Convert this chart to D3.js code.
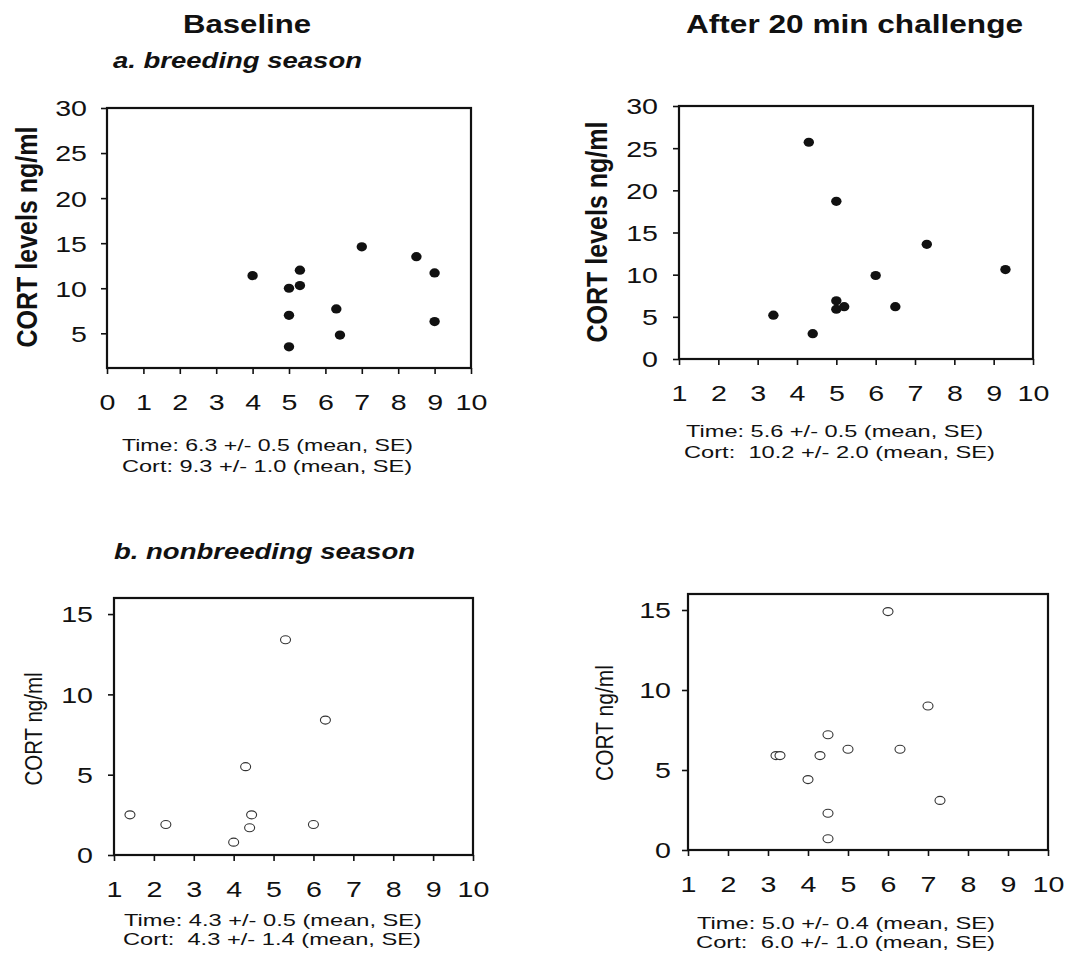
<!DOCTYPE html>
<html>
<head>
<meta charset="utf-8">
<script src="https://cdn.jsdelivr.net/npm/d3@7"></script>
<style>
  html, body { margin: 0; padding: 0; background: #fff; }
  svg { display: block; }
  text { font-family: "Liberation Sans", Arial, Helvetica, sans-serif; fill: #111; white-space: pre; }
</style>
</head>
<body>
<svg id="chart" width="1068" height="960"></svg>
<script>
// Breeding season, baseline samples (time in min, CORT ng/ml)
const breedBaseTime = [4.0, 5.0, 5.3, 5.3, 5.0, 5.0, 7.0, 6.3, 6.4, 8.5, 9.0, 9.0];
const breedBaseCort = [11.4, 10.0, 12.0, 10.3, 7.0, 3.5, 14.6, 7.7, 4.8, 13.5, 11.7, 6.3];

// Breeding season, after 20 min challenge
const breedChalTime = [4.3, 5.0, 7.3, 9.3, 6.0, 5.0, 5.0, 5.2, 6.5, 3.4, 4.4];
const breedChalCort = [25.7, 18.7, 13.6, 10.6, 9.9, 6.9, 5.9, 6.2, 6.2, 5.2, 3.0];

// Nonbreeding season, baseline samples
const nonBaseTime = [5.3, 6.3, 4.3, 1.4, 2.3, 4.45, 4.4, 4.0, 6.0];
const nonBaseCort = [13.4, 8.4, 5.5, 2.5, 1.9, 2.5, 1.7, 0.8, 1.9];

// Nonbreeding season, after 20 min challenge
const nonChalTime = [6.0, 7.0, 4.5, 5.0, 6.3, 3.2, 3.3, 4.3, 4.0, 7.3, 4.5, 4.5];
const nonChalCort = [14.9, 9.0, 7.2, 6.3, 6.3, 5.9, 5.9, 5.9, 4.4, 3.1, 2.3, 0.7];

// Tick labels
const xTicksFrom0 = [0, 1, 2, 3, 4, 5, 6, 7, 8, 9, 10];
const xTicksFrom1 = [1, 2, 3, 4, 5, 6, 7, 8, 9, 10];
const yTicksBreedBase = [5, 10, 15, 20, 25, 30];
const yTicksBreedChal = [0, 5, 10, 15, 20, 25, 30];
const yTicksNon = [0, 5, 10, 15];

// Column and section headings, axis titles, summary lines
const columnTitles = ["Baseline", "After 20 min challenge"];
const sectionTitles = ["a. breeding season", "b. nonbreeding season"];
const yTitleBreed = "CORT levels ng/ml";
const yTitleNon = "CORT ng/ml";
const summaries = [
  ["Time: 6.3 +/- 0.5 (mean, SE)", "Cort: 9.3 +/- 1.0 (mean, SE)"],
  ["Time: 5.6 +/- 0.5 (mean, SE)", "Cort:  10.2 +/- 2.0 (mean, SE)"],
  ["Time: 4.3 +/- 0.5 (mean, SE)", "Cort:  4.3 +/- 1.4 (mean, SE)"],
  ["Time: 5.0 +/- 0.4 (mean, SE)", "Cort:  6.0 +/- 1.0 (mean, SE)"]
];

const SX = 1.15;       // horizontal stretch of rotated titles
const TICK_SX = 1.3;   // horizontal stretch of tick numerals
const TICK_FONT = 22;
const svg = d3.select("#chart");

function hText(str, x, y, opts) {
  const t = svg.append("text")
    .attr("x", x).attr("y", y)
    .attr("font-size", opts.size)
    .attr("font-weight", opts.bold ? "bold" : "normal")
    .attr("font-style", opts.italic ? "italic" : "normal")
    .text(str);
  if (opts.width) t.attr("textLength", opts.width).attr("lengthAdjust", "spacingAndGlyphs");
  return t;
}

function vText(str, x, y, size, bold) {
  svg.append("text")
    .attr("transform", `translate(${x},${y}) scale(${SX},1) rotate(-90)`)
    .attr("text-anchor", "middle")
    .attr("font-size", size)
    .attr("font-weight", bold ? "bold" : "normal")
    .text(str);
}

const panels = [
  { time: breedBaseTime, cort: breedBaseCort, filled: true,
    box: [107, 108, 471, 368], xDom: [0, 10], yDom: [1.15, 30],
    xTicks: xTicksFrom0, yTicks: yTicksBreedBase, yLabOff: 20,
    yTitle: yTitleBreed, yTitleX: 37, yTitleY: 237, yTitleSize: 25, yTitleBold: true,
    sum: summaries[0], sumPos: [[122, 451, 291], [122, 472, 290]] },
  { time: breedChalTime, cort: breedChalCort, filled: true,
    box: [679, 106, 1033, 359], xDom: [1, 10], yDom: [0, 30],
    xTicks: xTicksFrom1, yTicks: yTicksBreedChal, yLabOff: 21,
    yTitle: yTitleBreed, yTitleX: 607, yTitleY: 232, yTitleSize: 25, yTitleBold: true,
    sum: summaries[1], sumPos: [[686, 437, 297], [684, 458, 311]] },
  { time: nonBaseTime, cort: nonBaseCort, filled: false,
    box: [114, 598, 473, 855], xDom: [1, 10], yDom: [0, 16],
    xTicks: xTicksFrom1, yTicks: yTicksNon, yLabOff: 21,
    yTitle: yTitleNon, yTitleX: 42, yTitleY: 729, yTitleSize: 20.5, yTitleBold: false,
    sum: summaries[2], sumPos: [[124, 926, 298], [123, 945, 298]] },
  { time: nonChalTime, cort: nonChalCort, filled: false,
    box: [688, 594, 1048, 850], xDom: [1, 10], yDom: [0, 16],
    xTicks: xTicksFrom1, yTicks: yTicksNon, yLabOff: 17,
    yTitle: yTitleNon, yTitleX: 613, yTitleY: 723, yTitleSize: 21, yTitleBold: false,
    sum: summaries[3], sumPos: [[697, 929, 298], [696, 948, 299]] }
];

panels.forEach(p => {
  const [l, t, r, b] = p.box;
  const x = d3.scaleLinear().domain(p.xDom).range([l, r]);
  const y = d3.scaleLinear().domain(p.yDom).range([b, t]);

  // y axis
  const ya = svg.append("g")
    .attr("transform", `translate(${l},0)`)
    .call(d3.axisLeft(y).tickValues(p.yTicks).tickSize(6).tickSizeOuter(0));
  ya.select(".domain").remove();
  ya.selectAll(".tick line").attr("stroke", "#111").attr("stroke-width", 1.6);
  ya.selectAll(".tick text")
    .attr("x", null).attr("dy", "0.36em")
    .attr("transform", `translate(${-p.yLabOff},0) scale(${TICK_SX},1)`)
    .attr("font-size", TICK_FONT).attr("font-family", null).attr("fill", "#111");

  // x axis
  const xa = svg.append("g")
    .attr("transform", `translate(0,${b})`)
    .call(d3.axisBottom(x).tickValues(p.xTicks).tickSize(6).tickSizeOuter(0));
  xa.select(".domain").remove();
  xa.selectAll(".tick line").attr("stroke", "#111").attr("stroke-width", 1.6);
  xa.selectAll(".tick text")
    .attr("y", null).attr("dy", null)
    .attr("transform", `translate(0,42) scale(${TICK_SX},1)`)
    .attr("font-size", TICK_FONT).attr("font-family", null).attr("fill", "#111");

  // frame
  svg.append("rect")
    .attr("x", l).attr("y", t).attr("width", r - l).attr("height", b - t)
    .attr("fill", "none").attr("stroke", "#111").attr("stroke-width", 2.2);

  // points
  const pts = p.time.map((tv, i) => ({ t: tv, c: p.cort[i] }));
  svg.append("g").selectAll("ellipse").data(pts).join("ellipse")
    .attr("cx", d => x(d.t)).attr("cy", d => y(d.c))
    .attr("rx", p.filled ? 5.2 : 5).attr("ry", p.filled ? 4.6 : 4)
    .attr("fill", p.filled ? "#111" : "#fff")
    .attr("stroke", p.filled ? "none" : "#333")
    .attr("stroke-width", 1.1);

  vText(p.yTitle, p.yTitleX, p.yTitleY, p.yTitleSize, p.yTitleBold);

  p.sum.forEach((s, i) => {
    const [sx, sy, sw] = p.sumPos[i];
    hText(s, sx, sy, { size: 17, width: sw });
  });
});

// headings
hText(columnTitles[0], 183, 33, { size: 26, bold: true, width: 128 });
hText(columnTitles[1], 686, 33, { size: 26, bold: true, width: 337 });
hText(sectionTitles[0], 113, 68, { size: 22, bold: true, italic: true, width: 249 });
hText(sectionTitles[1], 114, 559, { size: 22, bold: true, italic: true, width: 301 });
</script>
</body>
</html>
